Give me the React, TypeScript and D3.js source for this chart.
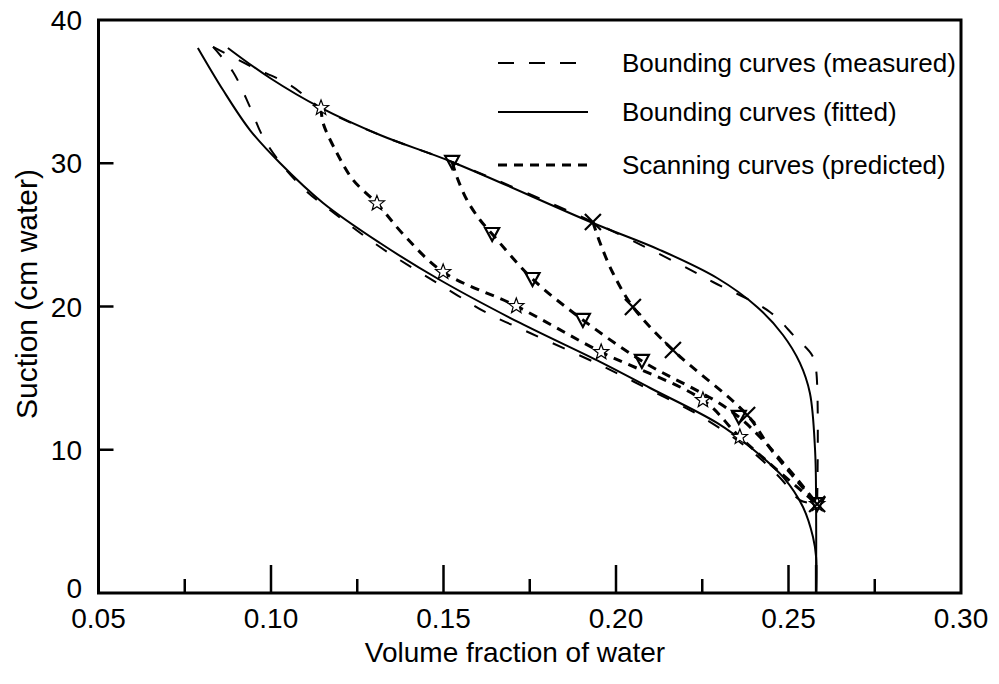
import React from "react";
import * as d3 from "d3";

// ---- data (x = volume fraction of water, y = suction cm water) ----
const fittedDryX = [0.0875, 0.0997, 0.1145, 0.1316, 0.1525, 0.1933, 0.2128, 0.2293, 0.2409, 0.2484, 0.2533, 0.2562, 0.2577, 0.258, 0.258];
const fittedDryY = [38.05, 35.95, 33.86, 31.97, 30.09, 25.83, 23.94, 21.99, 19.97, 18.01, 16.06, 13.96, 9.98, 6.49, 0];

const fittedWetX = [0.0788, 0.0861, 0.0939, 0.1026, 0.1151, 0.1316, 0.149, 0.1722, 0.1954, 0.2099, 0.2293, 0.2389, 0.2484, 0.2542, 0.2571, 0.258, 0.258];
const fittedWetY = [38.05, 35.11, 32.32, 30.02, 27.23, 24.43, 21.85, 18.85, 16.13, 14.31, 11.87, 10.19, 8.1, 6.0, 3.91, 2.51, 0];

const measDryX = [0.0832, 0.094, 0.1055, 0.1145, 0.1316, 0.1525, 0.1933, 0.2194, 0.2281, 0.2446, 0.2519, 0.2568, 0.258, 0.2583];
const measDryY = [38.12, 36.79, 35.46, 33.86, 31.97, 30.09, 25.9, 22.83, 21.71, 19.62, 17.87, 16.61, 15.57, 6.21];

const measWetX = [0.0832, 0.089, 0.0939, 0.0977, 0.1032, 0.1099, 0.1171, 0.1316, 0.1539, 0.1626, 0.1751, 0.1954, 0.2099, 0.2244, 0.2389, 0.2476, 0.2533, 0.2583];
const measWetY = [38.12, 36.37, 33.93, 31.83, 29.88, 28.13, 26.74, 24.15, 20.8, 19.55, 18.15, 15.92, 14.17, 12.36, 9.98, 8.03, 6.49, 6.21];

const scanStarX = [0.1145, 0.1151, 0.1191, 0.1238, 0.1307, 0.1385, 0.1499, 0.1711, 0.1957, 0.2252, 0.2359, 0.2583];
const scanStarY = [33.86, 32.81, 30.72, 28.83, 27.2, 25.0, 22.41, 20.03, 16.82, 13.47, 10.89, 6.21];
const starMarkX = [0.1145, 0.1307, 0.1499, 0.1711, 0.1957, 0.2252, 0.2359, 0.2583];
const starMarkY = [33.86, 27.2, 22.41, 20.03, 16.82, 13.47, 10.89, 6.21];

const scanTriX = [0.1525, 0.1539, 0.1568, 0.1606, 0.1641, 0.1758, 0.1904, 0.2075, 0.2356, 0.2583];
const scanTriY = [30.09, 29.04, 27.43, 26.04, 25.06, 21.92, 19.06, 16.2, 12.29, 6.21];
const triMarkX = [0.1525, 0.1641, 0.1758, 0.1904, 0.2075, 0.2356, 0.2583];
const triMarkY = [30.09, 25.06, 21.92, 19.06, 16.2, 12.29, 6.21];

const scanCrossX = [0.1933, 0.1954, 0.1991, 0.2049, 0.2165, 0.238, 0.2455, 0.2583];
const scanCrossY = [25.9, 24.43, 22.34, 19.97, 16.96, 12.43, 9.84, 6.21];
const crossMarkX = [0.1933, 0.2049, 0.2165, 0.238, 0.2583];
const crossMarkY = [25.9, 19.97, 16.96, 12.43, 6.21];

const xTickLabels = ["0.05", "0.10", "0.15", "0.20", "0.25", "0.30"];
const xTickValues = [0.05, 0.1, 0.15, 0.2, 0.25, 0.3];
const xMinorTicks = [0.075, 0.125, 0.175, 0.225, 0.275];
const xMajorTicks = [0.1, 0.15, 0.2, 0.25, 0.258];
const yTickValues = [0, 10, 20, 30, 40];
const yTickLabels = ["0", "10", "20", "30", "40"];
const yInnerTicks = [10, 20, 30];

const legendLabels = ["Bounding curves (measured)", "Bounding curves (fitted)", "Scanning curves (predicted)"];

const FONT = "'Liberation Sans', Arial, Helvetica, sans-serif";

const zip = (xs: number[], ys: number[]) => xs.map((x, i) => [x, ys[i]] as [number, number]);

function starPath(r: number) {
  const pts: string[] = [];
  for (let i = 0; i < 10; i++) {
    const rr = i % 2 === 0 ? r : r * 0.42;
    const a = -Math.PI / 2 + (i * Math.PI) / 5;
    pts.push(`${(rr * Math.cos(a)).toFixed(2)},${(rr * Math.sin(a)).toFixed(2)}`);
  }
  return "M" + pts.join("L") + "Z";
}

export default function App() {
  const W = 999, H = 684;
  const x = d3.scaleLinear().domain([0.05, 0.3]).range([98.5, 961]);
  const y = d3.scaleLinear().domain([0, 40]).range([593, 20]);
  const line = d3
    .line<[number, number]>()
    .x((d) => x(d[0]))
    .y((d) => y(d[1]))
    .curve(d3.curveCatmullRom.alpha(0.5));

  const measStyle = { fill: "none", stroke: "#000", strokeWidth: 2, strokeDasharray: "13 16" };
  const fitStyle = { fill: "none", stroke: "#000", strokeWidth: 2 };
  const scanStyle = { fill: "none", stroke: "#000", strokeWidth: 3, strokeDasharray: "9 7" };

  const star = starPath(8);
  const tri = "M-7,-6L7,-6L0,7Z";

  const left = x(0.05), right = x(0.3), top = y(40), bottom = y(0);

  return (
    <svg width={W} height={H} style={{ position: "absolute", left: 0, top: 0, background: "#fff" }} fontFamily={FONT}>
      <rect width={W} height={H} fill="#fff" />
      {/* curves */}
      <path d={line(zip(measDryX, measDryY))!} {...measStyle} />
      <path d={line(zip(measWetX, measWetY))!} {...measStyle} />
      <path d={line(zip(fittedDryX, fittedDryY))!} {...fitStyle} />
      <path d={line(zip(fittedWetX, fittedWetY))!} {...fitStyle} />
      <path d={line(zip(scanStarX, scanStarY))!} {...scanStyle} />
      <path d={line(zip(scanTriX, scanTriY))!} {...scanStyle} />
      <path d={line(zip(scanCrossX, scanCrossY))!} {...scanStyle} />

      {/* markers */}
      {starMarkX.map((v, i) => (
        <path key={"s" + i} d={star} transform={`translate(${x(v)},${y(starMarkY[i])})`} fill="#fff" stroke="#000" strokeWidth={1.2} />
      ))}
      {triMarkX.map((v, i) => (
        <path key={"t" + i} d={tri} transform={`translate(${x(v)},${y(triMarkY[i])})`} fill="none" stroke="#000" strokeWidth={2.2} />
      ))}
      {crossMarkX.map((v, i) => (
        <path key={"c" + i} d="M-8,-8L8,8M-8,8L8,-8" transform={`translate(${x(v)},${y(crossMarkY[i])})`} fill="none" stroke="#000" strokeWidth={2.2} />
      ))}

      {/* frame */}
      <path d={`M${left},${top}L${right},${top}L${right},${bottom}L${left},${bottom}Z`} fill="none" stroke="#000" strokeWidth={3} />
      {xMinorTicks.map((v) => (
        <line key={"xm" + v} x1={x(v)} x2={x(v)} y1={bottom} y2={bottom - 14} stroke="#000" strokeWidth={2.5} />
      ))}
      {xMajorTicks.map((v) => (
        <line key={"xM" + v} x1={x(v)} x2={x(v)} y1={bottom} y2={bottom - 28} stroke="#000" strokeWidth={2.5} />
      ))}
      {yInnerTicks.map((v) => (
        <line key={"yt" + v} x1={left} x2={left + 15} y1={y(v)} y2={y(v)} stroke="#000" strokeWidth={2.5} />
      ))}

      {/* tick labels */}
      {xTickValues.map((v, i) => (
        <text key={"xl" + v} x={x(v)} y={628} textAnchor="middle" fontSize={28} fill="#000">
          {xTickLabels[i]}
        </text>
      ))}
      {yTickValues.map((v, i) => (
        <text key={"yl" + v} x={82} y={y(v) + (v === 0 ? 5 : 10)} textAnchor="end" fontSize={28} fill="#000">
          {yTickLabels[i]}
        </text>
      ))}
      <text x={515} y={662} textAnchor="middle" fontSize={28} fill="#000">
        Volume fraction of water
      </text>
      <text transform={`translate(37,${294}) rotate(-90)`} textAnchor="middle" fontSize={30} fill="#000">
        Suction (cm water)
      </text>

      {/* legend */}
      <line x1={498} x2={588} y1={63} y2={63} {...measStyle} strokeDasharray="16 15" />
      <line x1={498} x2={588} y1={112} y2={112} {...fitStyle} />
      <line x1={498} x2={588} y1={165} y2={165} {...scanStyle} />
      {legendLabels.map((t, i) => (
        <text key={t} x={622} y={[63, 112, 165][i] + 9} fontSize={26} fill="#000">
          {t}
        </text>
      ))}
    </svg>
  );
}
